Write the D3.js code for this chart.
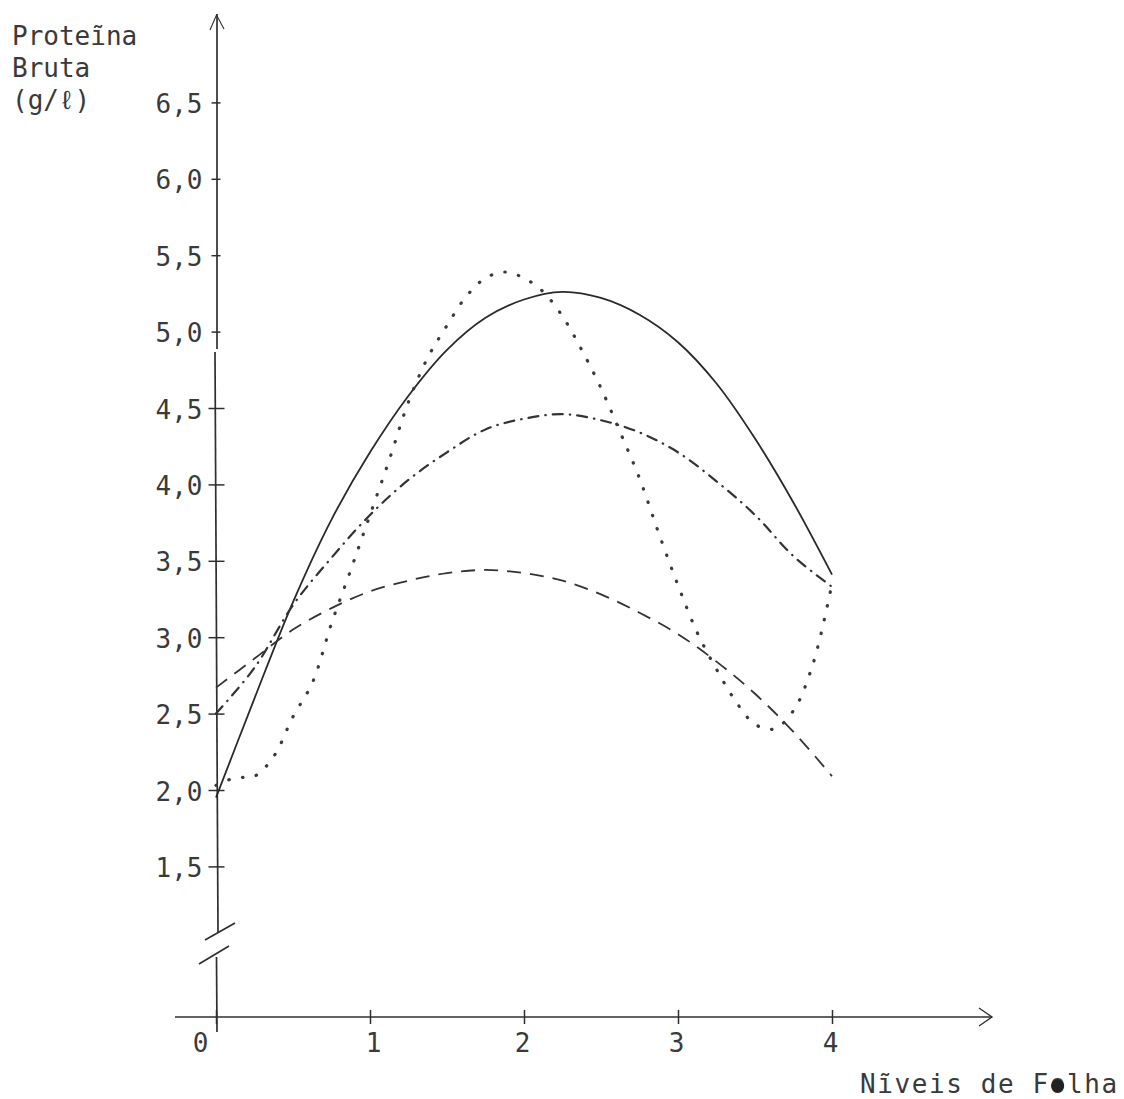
<!DOCTYPE html>
<html><head><meta charset="utf-8">
<script src="https://cdn.jsdelivr.net/npm/d3@7"></script>
<style>
html,body{margin:0;padding:0;background:#fff;}
svg{display:block;}
text{font-family:"DejaVu Sans Mono","Liberation Mono",monospace;fill:#3a3a3a;}
</style></head><body>
<svg id="chart" width="1124" height="1099"></svg>
<script>
// ---- data ----
const niveis = [0, 0.25, 0.5, 0.75, 1, 1.25, 1.5, 1.75, 2, 2.25, 2.5, 2.75, 3, 3.25, 3.5, 3.75, 4];
const pbContinua = [1.95, 2.60, 3.23, 3.77, 4.21, 4.58, 4.88, 5.09, 5.21, 5.26, 5.22, 5.11, 4.93, 4.66, 4.30, 3.88, 3.41];
const pbTracoPonto = [2.50, 2.80, 3.21, 3.52, 3.80, 4.03, 4.21, 4.36, 4.43, 4.46, 4.42, 4.34, 4.21, 4.02, 3.80, 3.53, 3.33];
const pbTracejada = [2.67, 2.86, 3.05, 3.19, 3.30, 3.37, 3.42, 3.44, 3.42, 3.37, 3.28, 3.16, 3.02, 2.84, 2.63, 2.38, 2.09];
const niveisPontilhada = [0, 0.125, 0.25, 0.375, 0.5, 0.625, 0.75, 0.875, 1, 1.125, 1.25, 1.375, 1.5, 1.625, 1.75, 1.875, 2, 2.125, 2.25, 2.375, 2.5, 2.625, 2.75, 2.875, 3, 3.125, 3.25, 3.375, 3.5, 3.625, 3.75, 3.875, 4];
const pbPontilhada = [2.03, 2.08, 2.09, 2.22, 2.48, 2.70, 3.09, 3.44, 3.80, 4.16, 4.54, 4.83, 5.04, 5.23, 5.35, 5.39, 5.35, 5.26, 5.10, 4.88, 4.63, 4.34, 4.04, 3.68, 3.34, 3.03, 2.79, 2.58, 2.43, 2.40, 2.52, 2.82, 3.35];
const yTicks = [1.5, 2, 2.5, 3, 3.5, 4, 4.5, 5, 5.5, 6, 6.5];
const xTicks = [0, 1, 2, 3, 4];
const yTitle = ["Proteĩna", "Bruta", "(g/ℓ)"];
const xTitle = "Nĩveis de Folha";

// ---- chart ----
const svg = d3.select("#chart");
const ink = "#2f2f2f";
const x = d3.scaleLinear().domain([0, 4]).range([216, 832]);
const y = d3.scaleLinear().domain([1.5, 6.5]).range([866.4, 102.4]);
const xAxisY = 1017;

// axis lines (broken y axis)
const axes = svg.append("g").attr("stroke", ink).attr("stroke-width", 1.7).attr("fill", "none");
axes.append("line").attr("x1", 217).attr("y1", 14).attr("x2", 217).attr("y2", 349);
axes.append("line").attr("x1", 215).attr("y1", 352).attr("x2", 218).attr("y2", 932);
axes.append("line").attr("x1", 216.5).attr("y1", 957).attr("x2", 217).attr("y2", 1032);
axes.append("line").attr("x1", 205).attr("y1", 940).attr("x2", 235).attr("y2", 923);
axes.append("line").attr("x1", 199).attr("y1", 964).attr("x2", 229).attr("y2", 946);
axes.append("polyline").attr("stroke-width", 1.1).attr("points", "210,30 216.5,15 224,29");
axes.append("line").attr("x1", 175).attr("y1", xAxisY).attr("x2", 992).attr("y2", xAxisY);
axes.append("polyline").attr("stroke-width", 1.4).attr("points", "979,1008 992,1017 979,1026");

// y axis ticks + labels
const gy = svg.append("g").attr("transform", "translate(216.5,0)")
  .call(d3.axisLeft(y).tickValues(yTicks)
    .tickFormat(d => d3.format(".1f")(d).replace(".", ","))
    .tickSizeOuter(0));
gy.select(".domain").remove();
gy.selectAll(".tick line")
  .attr("x1", d => d >= 5 ? -5 : -8)
  .attr("x2", d => d >= 5 ? 4 : 8)
  .attr("stroke", ink).attr("stroke-width", 1.5);
gy.selectAll(".tick text")
  .attr("x", -14).attr("y", 10).attr("dy", null)
  .style("font-size", "26px").attr("fill", "#3a3a3a");

// x axis ticks + labels
const gx = svg.append("g").attr("transform", `translate(0,${xAxisY})`)
  .call(d3.axisBottom(x).tickValues(xTicks).tickFormat(d3.format("d")).tickSizeOuter(0));
gx.select(".domain").remove();
gx.selectAll(".tick line").attr("y1", -7).attr("y2", 7).attr("stroke", ink).attr("stroke-width", 1.5);
gx.selectAll(".tick text")
  .attr("y", 35).attr("dy", null)
  .attr("x", d => d === 0 ? -16 : (d === 1 ? 3 : -2))
  .style("font-size", "26px").attr("fill", "#3a3a3a");

// curves
const line = (xs) => d3.line()
  .x((d, i) => x(xs[i]))
  .y(d => y(d))
  .curve(d3.curveCatmullRom.alpha(0.5));

const curves = svg.append("g").attr("fill", "none");
curves.append("path").datum(pbContinua)
  .attr("d", line(niveis)).attr("stroke", "#2a2a2a").attr("stroke-width", 1.8);
curves.append("path").datum(pbTracejada)
  .attr("d", line(niveis)).attr("stroke", "#333").attr("stroke-width", 1.8)
  .attr("stroke-dasharray", "14,9");
curves.append("path").datum(pbTracoPonto)
  .attr("d", line(niveis)).attr("stroke", "#333").attr("stroke-width", 2.2)
  .attr("stroke-linecap", "round").attr("stroke-dasharray", "10,7,0.5,7");
curves.append("path").datum(pbPontilhada)
  .attr("d", line(niveisPontilhada)).attr("stroke", "#3a3a3a").attr("stroke-width", 3.2)
  .attr("stroke-linecap", "round").attr("stroke-dasharray", "0.5,13.5");

// y title
svg.append("g").selectAll("text").data(yTitle).join("text")
  .attr("x", 12).attr("y", (d, i) => 45 + i * 32)
  .style("font-size", "26px").text(d => d);

// x title
const xt = svg.append("text")
  .attr("x", 860).attr("y", 1093)
  .style("font-size", "26px").style("letter-spacing", "1.6px")
  .text(xTitle);
// ink blot over the "o" of Folha, as typed in the original
try {
  const ext = xt.node().getExtentOfChar(11);
  svg.append("circle").attr("cx", ext.x + ext.width / 2 - 0.8).attr("cy", 1086).attr("r", 6.5).attr("fill", "#222");
} catch (e) {}
</script></body></html>
